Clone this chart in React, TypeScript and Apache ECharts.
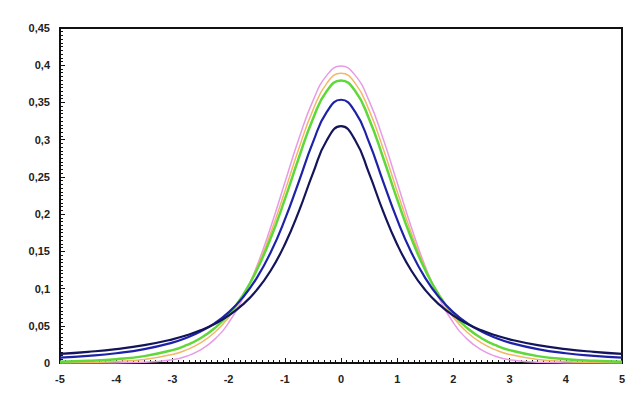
import React, { useEffect, useRef } from "react";
import * as echarts from "echarts";

const xValues = [-5, -4.5, -4, -3.5, -3, -2.75, -2.5, -2.25, -2, -1.75, -1.5, -1.25, -1, -0.75, -0.5, -0.25, 0, 0.25, 0.5, 0.75, 1, 1.25, 1.5, 1.75, 2, 2.25, 2.5, 2.75, 3, 3.5, 4, 4.5, 5];

const normalCurve = [0.0000015, 0.000016, 0.000134, 0.00087, 0.00443, 0.0091, 0.0175, 0.0317, 0.054, 0.0863, 0.1295, 0.1826, 0.242, 0.3011, 0.3521, 0.3867, 0.3989, 0.3867, 0.3521, 0.3011, 0.242, 0.1826, 0.1295, 0.0863, 0.054, 0.0317, 0.0175, 0.0091, 0.00443, 0.00087, 0.000134, 0.000016, 0.0000015];
const df10Curve = [0.0004, 0.00088, 0.00203, 0.00478, 0.0114, 0.0176, 0.0269, 0.0409, 0.0611, 0.0895, 0.1275, 0.1751, 0.2304, 0.288, 0.3397, 0.376, 0.3891, 0.376, 0.3397, 0.288, 0.2304, 0.1751, 0.1275, 0.0895, 0.0611, 0.0409, 0.0269, 0.0176, 0.0114, 0.00478, 0.00203, 0.00088, 0.0004];
const df5Curve = [0.00176, 0.00295, 0.00512, 0.00925, 0.0173, 0.0239, 0.0333, 0.0466, 0.0651, 0.0905, 0.1245, 0.1679, 0.2197, 0.2757, 0.3279, 0.3657, 0.3796, 0.3657, 0.3279, 0.2757, 0.2197, 0.1679, 0.1245, 0.0905, 0.0651, 0.0466, 0.0333, 0.0239, 0.0173, 0.00925, 0.00512, 0.00295, 0.00176];
const df2Curve = [0.00713, 0.00953, 0.0131, 0.0186, 0.0274, 0.0338, 0.0422, 0.0533, 0.068, 0.0878, 0.1141, 0.1487, 0.1925, 0.2438, 0.2963, 0.3376, 0.3536, 0.3376, 0.2963, 0.2438, 0.1925, 0.1487, 0.1141, 0.0878, 0.068, 0.0533, 0.0422, 0.0338, 0.0274, 0.0186, 0.0131, 0.00953, 0.00713];
const df1Curve = [0.0122, 0.015, 0.0187, 0.024, 0.0318, 0.0372, 0.0439, 0.0525, 0.0637, 0.0784, 0.0979, 0.1242, 0.1592, 0.2037, 0.2546, 0.2996, 0.3183, 0.2996, 0.2546, 0.2037, 0.1592, 0.1242, 0.0979, 0.0784, 0.0637, 0.0525, 0.0439, 0.0372, 0.0318, 0.024, 0.0187, 0.015, 0.0122];

const seriesDefs = [
  { name: "normal", data: normalCurve, color: "#e79be6", width: 1.5 },
  { name: "df10", data: df10Curve, color: "#f2b866", width: 1.5 },
  { name: "df5", data: df5Curve, color: "#5fd83a", width: 2.5 },
  { name: "df2", data: df2Curve, color: "#1e22a8", width: 2.2 },
  { name: "df1", data: df1Curve, color: "#14145a", width: 2.2 },
];

export default function App() {
  const ref = useRef<HTMLDivElement>(null);
  useEffect(() => {
    if (!ref.current) return;
    const chart = echarts.init(ref.current, null, { renderer: "svg" });
    const labelStyle = {
      fontFamily: "Liberation Sans, Arial, sans-serif",
      fontWeight: "bold" as const,
      fontSize: 11,
      color: "#222",
    };
    chart.setOption({
      animation: false,
      backgroundColor: "#ffffff",
      grid: {
        left: 60,
        right: 17,
        top: 28,
        bottom: 36,
        show: true,
        borderColor: "#111",
        borderWidth: 2,
        backgroundColor: "#ffffff",
      },
      xAxis: {
        type: "value",
        min: -5,
        max: 5,
        interval: 1,
        axisLine: { show: true, onZero: false, lineStyle: { color: "#111", width: 2 } },
        axisTick: { show: true, inside: true, length: 5, lineStyle: { color: "#111" } },
        minorTick: { show: true, splitNumber: 10, length: 3, lineStyle: { color: "#111" } },
        splitLine: { show: false },
        axisLabel: { ...labelStyle, margin: 10 },
      },
      yAxis: {
        type: "value",
        min: 0,
        max: 0.45,
        interval: 0.05,
        axisLine: { show: true, onZero: false, lineStyle: { color: "#111", width: 2 } },
        axisTick: { show: true, inside: true, length: 5, lineStyle: { color: "#111" } },
        minorTick: { show: true, splitNumber: 10, length: 3, lineStyle: { color: "#111" } },
        splitLine: { show: false },
        axisLabel: {
          ...labelStyle,
          margin: 10,
          formatter: (v: number) => String(parseFloat(v.toFixed(2))).replace(".", ","),
        },
      },
      series: seriesDefs.map((s) => ({
        name: s.name,
        type: "line",
        smooth: 0.5,
        showSymbol: false,
        symbol: "none",
        data: xValues.map((x, i) => [x, s.data[i]]),
        lineStyle: { color: s.color, width: s.width },
        itemStyle: { color: s.color },
      })),
    });
    return () => chart.dispose();
  }, []);
  return (
    <div
      ref={ref}
      style={{ position: "fixed", left: 0, top: 0, width: 639, height: 399, background: "#fff" }}
    />
  );
}
